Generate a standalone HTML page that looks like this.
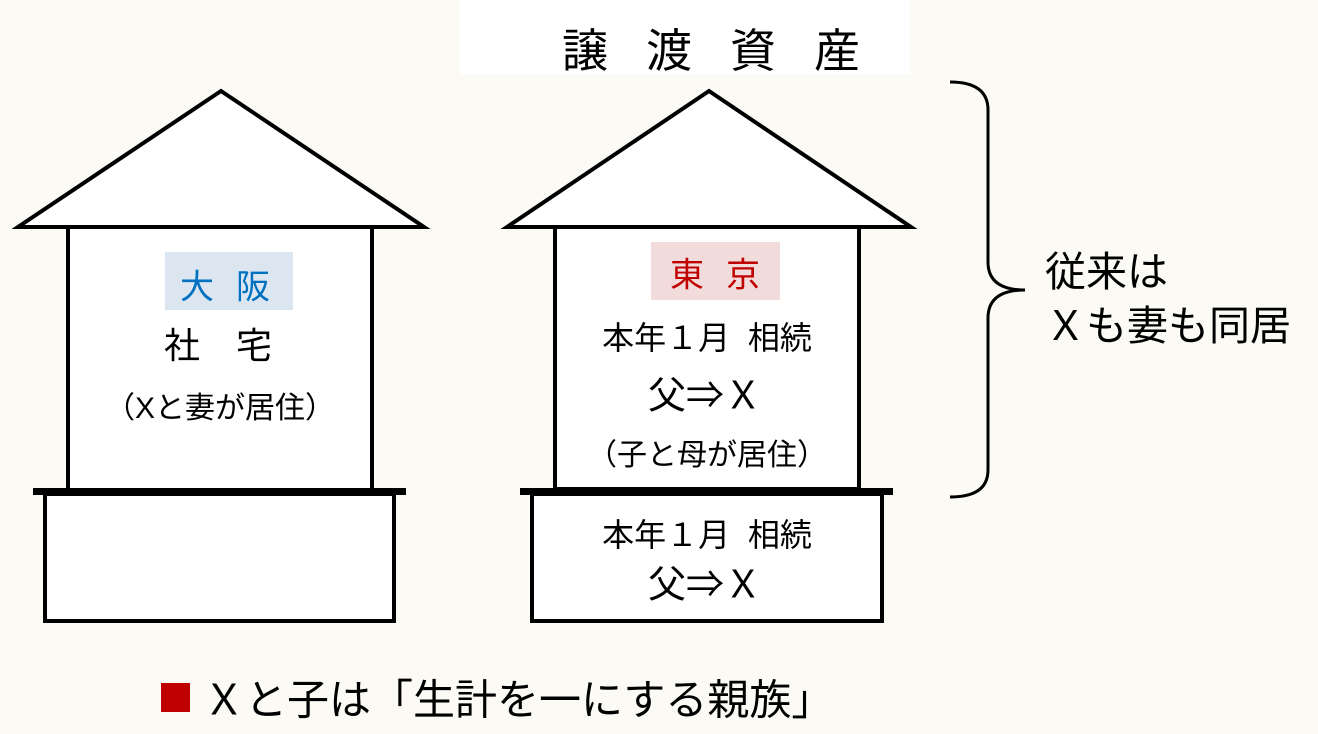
<!DOCTYPE html>
<html><head><meta charset="utf-8"><style>
body{margin:0;width:1318px;height:734px;background:#fbfaf5;overflow:hidden;font-family:"Liberation Sans","Noto Sans CJK JP",sans-serif;}
.t{position:absolute;white-space:nowrap;color:#000;transform:translate(-50%,-50%);}
</style></head><body>
<svg width="1318" height="734" style="position:absolute;left:0;top:0">
<rect x="460" y="0" width="450" height="74" fill="#fff"/>
<g stroke="#000" stroke-width="4" fill="#fff" stroke-linejoin="miter">
<polygon points="221,91 18,227 424,227"/>
<rect x="68" y="227" width="304" height="263"/>
<rect x="45" y="494" width="349" height="127"/>
<polygon points="709,91 507,227 911,227"/>
<rect x="555" y="227" width="304" height="262"/>
<rect x="532" y="494" width="350" height="127"/>
</g>
<rect x="33" y="488" width="373" height="7" fill="#000"/>
<rect x="520" y="488" width="373" height="7" fill="#000"/>
<rect x="165" y="252" width="128" height="58" fill="#dce6f1"/>
<rect x="651" y="242" width="129" height="58" fill="#f2dcdb"/>
<path d="M950,82 Q988,82 988,110 L988,262 Q988,290 1025,290 Q988,290 988,318 L988,470 Q988,497 950,497" fill="none" stroke="#000" stroke-width="3"/>
<rect x="161" y="683" width="29" height="29" fill="#c00000"/>
</svg>
<div class="t" style="left:730px;top:48px;font-size:46px;letter-spacing:38px">譲渡資産</div>
<div class="t" style="left:236px;top:284px;font-size:34px;color:#0070c0;letter-spacing:22px">大阪</div>
<div class="t" style="left:236px;top:343px;font-size:36px;letter-spacing:36px">社宅</div>
<div class="t" style="left:220px;top:405px;font-size:30px">（Xと妻が居住）</div>
<div class="t" style="left:726px;top:272px;font-size:34px;color:#c00000;letter-spacing:22px">東京</div>
<div class="t" style="left:707px;top:336px;font-size:32px">本年１月&nbsp;&nbsp;相続</div>
<div class="t" style="left:705px;top:392px;font-size:38px">父⇒Ｘ</div>
<div class="t" style="left:707px;top:452px;font-size:30px">（子と母が居住）</div>
<div class="t" style="left:707px;top:533px;font-size:32px">本年１月&nbsp;&nbsp;相続</div>
<div class="t" style="left:705px;top:581px;font-size:38px">父⇒Ｘ</div>
<div class="t" style="left:1045px;top:268px;font-size:41px;transform:translate(0,-50%)">従来は</div>
<div class="t" style="left:1045px;top:322px;font-size:41px;transform:translate(0,-50%)">Ｘも妻も同居</div>
<div class="t" style="left:203px;top:697px;font-size:42px;transform:translate(0,-50%)">Ｘと子は「生計を一にする親族」</div>
</body></html>
